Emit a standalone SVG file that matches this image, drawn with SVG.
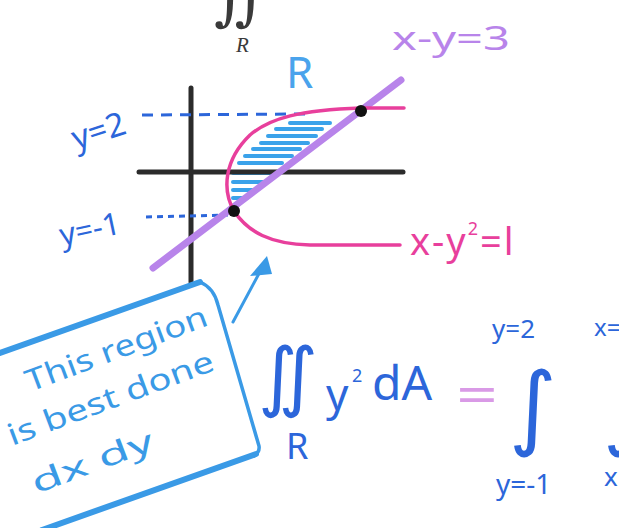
<svg xmlns="http://www.w3.org/2000/svg" width="619" height="528" viewBox="0 0 619 528">
<style>
.hand{font-family:"Noto Sans","DejaVu Sans",sans-serif;}
.dblue{fill:#2c66da;}
.lblue{fill:#3a9ae6;}
.pink{fill:#e83f9c;}
.purp{fill:#b884ea;}
.axis{stroke:#2b2b2b;stroke-width:5;fill:none;stroke-linecap:round;}
.hatch{stroke:#3aa2ea;stroke-width:4;stroke-linecap:round;}
.dash{stroke:#2c66da;stroke-width:3;fill:none;}
.box{stroke:#3a9ae6;fill:none;stroke-linecap:round;stroke-linejoin:round;}
</style>
<rect width="619" height="528" fill="#ffffff"/>
<g id="top-integral">
<text x="214" y="18" font-family="'DejaVu Serif',serif" font-size="62" fill="#3a3a3a" font-style="italic">∬</text>
<text x="236" y="52" font-family="'Liberation Serif',serif" font-size="21" fill="#3a3a3a" font-style="italic">R</text>
</g>
<g id="region-hatch">
<line class="hatch" x1="290" y1="123" x2="330" y2="123"/>
<line class="hatch" x1="276" y1="129" x2="322" y2="129"/>
<line class="hatch" x1="268" y1="136" x2="316" y2="136"/>
<line class="hatch" x1="261" y1="143" x2="308" y2="143"/>
<line class="hatch" x1="253" y1="149" x2="300" y2="149"/>
<line class="hatch" x1="245" y1="156" x2="292" y2="156"/>
<line class="hatch" x1="239" y1="163" x2="282" y2="163"/>
<line class="hatch" x1="233" y1="173" x2="272" y2="173"/>
<line class="hatch" x1="233" y1="182" x2="265" y2="182"/>
<line class="hatch" x1="233" y1="190" x2="257" y2="190"/>
<line class="hatch" x1="233" y1="198" x2="247" y2="198"/>
</g>
<g id="axes">
<line class="axis" x1="191" y1="88" x2="191" y2="282"/>
<line class="axis" x1="139" y1="172" x2="403" y2="172"/>
</g>
<g id="guides">
<line class="dash" x1="142" y1="115" x2="306" y2="114" stroke-dasharray="11 8"/>
<line class="dash" x1="146" y1="217" x2="228" y2="215" stroke-dasharray="6 5"/>
</g>
<g id="line-x-y-3">
<line x1="153" y1="268" x2="401" y2="80" stroke="#b884ea" stroke-width="7" stroke-linecap="round"/>
<text class="hand purp" x="392" y="50" font-size="32" textLength="118" lengthAdjust="spacingAndGlyphs">x-y=3</text>
</g>
<g id="parabola">
<path d="M 404 108 L 361 108 C 300 110 270 118 250 135 C 224 160 222 190 234 211 C 248 232 270 244 310 245 L 400 245" fill="none" stroke="#e83f9c" stroke-width="3.5" stroke-linecap="round"/>
<text class="hand pink" x="410" y="255" font-size="38" letter-spacing="2">x-y<tspan font-size="18" dy="-20">2</tspan><tspan dy="20">=l</tspan></text>
</g>
<g id="points">
<circle cx="361" cy="111" r="6" fill="#111"/>
<circle cx="234" cy="211" r="6" fill="#111"/>
</g>
<g id="labels">
<text class="hand" x="286" y="88" font-size="44" fill="#4aa3ec">R</text>
<text class="hand dblue" x="76" y="150" font-size="33" transform="rotate(-18 76 150)">y=2</text>
<text class="hand dblue" x="62" y="246" font-size="31" transform="rotate(-12 62 246)">y=-1</text>
</g>
<g id="note-box">
<line class="box" x1="0" y1="353" x2="200" y2="282" stroke-width="6"/>
<path class="box" d="M 200 282 Q 214 288 218 305 L 259 446 Q 260 452 254 456" stroke-width="3.5"/>
<line class="box" x1="256" y1="454" x2="42" y2="530" stroke-width="6"/>
<g transform="rotate(-20.5 30 392)">
<text class="hand lblue" x="30" y="392" font-size="30" textLength="192" lengthAdjust="spacingAndGlyphs">This region</text>
</g>
<g transform="rotate(-20.5 12 446)">
<text class="hand lblue" x="12" y="446" font-size="30" textLength="218" lengthAdjust="spacingAndGlyphs">is best done</text>
</g>
<g transform="rotate(-20.5 36 494)">
<text class="hand lblue" x="36" y="494" font-size="30" textLength="128" lengthAdjust="spacingAndGlyphs">dx dy</text>
</g>
</g>
<g id="connectors">
<line x1="233" y1="322" x2="262" y2="268" stroke="#3a9ae6" stroke-width="3" stroke-linecap="round"/>
<polygon points="267,256 250,276 272,274" fill="#3a9ae6"/>
</g>
<g id="formula">
<text class="hand dblue" x="258" y="402" font-size="76">∬</text>
<text class="hand dblue" x="286" y="459" font-size="36">R</text>
<text class="hand dblue" x="326" y="410" font-size="44">y</text>
<text class="hand dblue" x="352" y="382" font-size="18">2</text>
<text class="hand dblue" x="372" y="400" font-size="48">dA</text>
<text class="hand" x="456" y="414" font-size="52" fill="#d99ae6" textLength="42" lengthAdjust="spacingAndGlyphs">=</text>
<text class="hand dblue" x="509" y="438" font-size="92">∫</text>
<text class="hand dblue" x="492" y="338" font-size="26">y=2</text>
<text class="hand dblue" x="496" y="494" font-size="28">y=-1</text>
<text class="hand dblue" x="594" y="336" font-size="24">x=</text>
<text class="hand dblue" x="603" y="438" font-size="92">∫</text>
<text class="hand dblue" x="604" y="486" font-size="26">x</text>
</g>
</svg>
